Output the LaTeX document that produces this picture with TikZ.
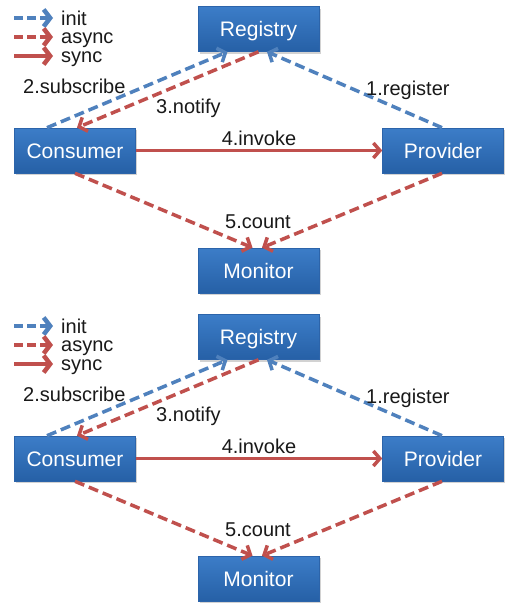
\documentclass[tikz,border=0pt]{standalone}
\usepackage{fontspec}
\setmainfont{Liberation Sans}
\usetikzlibrary{arrows.meta,shadows}
\definecolor{initblue}{RGB}{79,129,189}
\definecolor{asyncred}{RGB}{192,80,77}
\definecolor{boxtop}{RGB}{60,125,200}
\definecolor{boxbot}{RGB}{38,96,166}
\definecolor{boxedge}{RGB}{44,100,170}
\begin{document}
\begin{tikzpicture}[x=1pt,y=-1pt,
  comp/.style={rectangle, top color=boxtop, bottom color=boxbot, draw=boxedge, line width=0.6pt,
    minimum width=121pt, minimum height=45pt, inner sep=0pt, text height=15.5pt, text depth=0pt,
    text=white, font=\fontsize{21}{25}\selectfont,
    drop shadow={shadow xshift=1.5pt, shadow yshift=-2pt, opacity=0.35}},
  lbl/.style={inner sep=0pt, font=\fontsize{20}{24}\selectfont, text=black!90},
  conn/.style={line width=3.5pt, -{Straight Barb[length=6.5pt,width=15pt]}},
  initline/.style={conn, draw=initblue, dash pattern=on 10pt off 5pt},
  asyncline/.style={conn, draw=asyncred, dash pattern=on 10pt off 5pt},
  syncline/.style={conn, draw=asyncred},
  legline/.style={line width=4.5pt, -{Straight Barb[length=6.5pt,width=17pt]}, dash pattern=on 9pt off 4pt},
]
\fill[white] (0,0) rectangle (532,613);
\useasboundingbox (0,0) rectangle (532,613);
\foreach \p/\dy in {t/0,b/308}{
\begin{scope}[shift={(0,\dy)}, name prefix=\p-]
  % legend
  \coordinate (li-a) at (14,18);  \coordinate (li-b) at (53,18);
  \coordinate (la-a) at (14,37);  \coordinate (la-b) at (53,37);
  \coordinate (ls-a) at (14,56);  \coordinate (ls-b) at (53,56);
  \draw[legline, draw=initblue] (li-a) -- (li-b);
  \draw[legline, draw=asyncred] (la-a) -- (la-b);
  \draw[legline, draw=asyncred, solid] (ls-a) -- (ls-b);
  \node[lbl, anchor=base west] (lt-init) at (61,25) {init};
  \node[lbl, anchor=base west] (lt-async) at (61,43.5) {async};
  \node[lbl, anchor=base west] (lt-sync) at (61,62) {sync};
  % components
  \node[comp] (reg)  at (258.5,29)  {Registry};
  \node[comp] (cons) at (75,150.5)  {Consumer};
  \node[comp] (prov) at (443,150.5) {Provider};
  \node[comp] (mon)  at (258.5,270.5) {Monitor};
  % connectors
  \draw[initline]  ([xshift=-28pt]cons.north) -- ([xshift=-31pt]reg.south);
  \draw[asyncline] (reg.south) -- ([xshift=2pt]cons.north);
  \draw[initline]  ([xshift=-1pt]prov.north) -- ([xshift=8.5pt]reg.south);
  \draw[syncline]  (cons.east) -- (prov.west);
  \draw[asyncline] (cons.south) -- ([xshift=-6pt]mon.north);
  \draw[asyncline] ([xshift=-1pt]prov.south) -- ([xshift=3.5pt]mon.north);
  % labels
  \node[lbl, anchor=base west] (l-sub) at (23,93) {2.subscribe};
  \node[lbl, anchor=base west] (l-not) at (156,113) {3.notify};
  \node[lbl, anchor=base west] (l-reg) at (366,95) {1.register};
  \node[lbl, anchor=base] (l-inv) at (259,145) {4.invoke};
  \node[lbl, anchor=base] (l-cnt) at (258,228) {5.count};
\end{scope}
}
\end{tikzpicture}
\end{document}
